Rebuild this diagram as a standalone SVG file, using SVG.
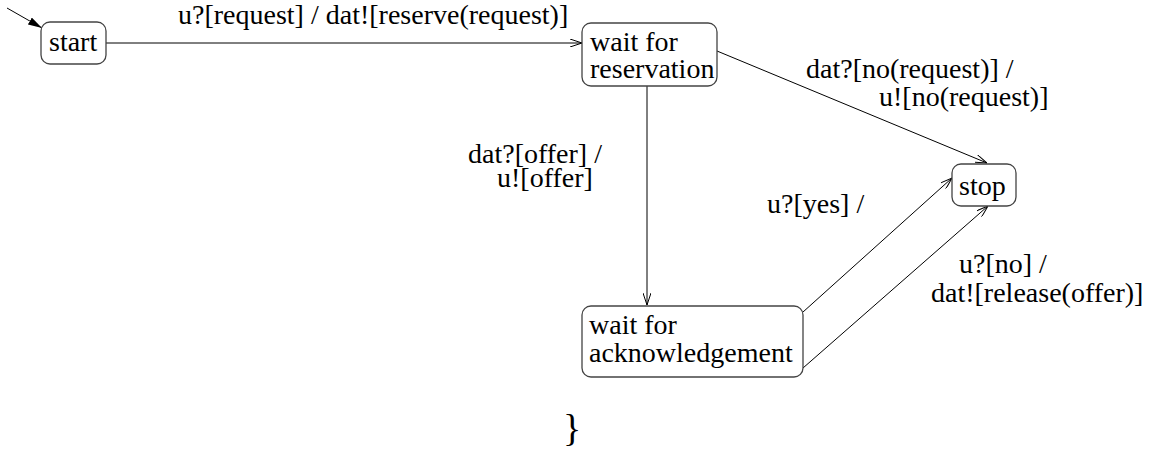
<svg xmlns="http://www.w3.org/2000/svg" width="1152" height="452" viewBox="0 0 1152 452">
<style>
.node rect{fill:#fff;stroke:#444;stroke-width:1.3}
.edge{fill:none;stroke:#000;stroke-width:1}
</style>
<defs>
<marker id="open" viewBox="0 0 12 8" refX="12" refY="4" markerWidth="12" markerHeight="8" markerUnits="userSpaceOnUse" orient="auto">
<path d="M0,0 L12,4 L0,8" fill="none" stroke="#000" stroke-width="1"/>
</marker>
<marker id="filled" viewBox="0 0 14 8" refX="14" refY="4" markerWidth="14" markerHeight="8" markerUnits="userSpaceOnUse" orient="auto">
<path d="M0,0 L14,4 L0,8 Z" fill="#000"/>
</marker>
</defs>
<g id="connectors">
<line class="edge" x1="7" y1="8" x2="42" y2="28" marker-end="url(#filled)"/>
<line class="edge" x1="106" y1="43" x2="582" y2="43" marker-end="url(#open)"/>
<line class="edge" x1="717" y1="51" x2="987" y2="163" marker-end="url(#open)"/>
<line class="edge" x1="647" y1="86" x2="647" y2="305" marker-end="url(#open)"/>
<line class="edge" x1="803" y1="312" x2="952" y2="178" marker-end="url(#open)"/>
<line class="edge" x1="803" y1="368" x2="988" y2="206" marker-end="url(#open)"/>
<text x="178" y="24" font-size="28" font-family="Times New Roman">u?[request] / dat![reserve(request)]</text>
<text x="806" y="78" font-size="28" font-family="Times New Roman">dat?[no(request)] /</text>
<text x="879" y="106" font-size="28" font-family="Times New Roman">u![no(request)]</text>
<text x="468" y="163" font-size="28" font-family="Times New Roman">dat?[offer] /</text>
<text x="497" y="187" font-size="28" font-family="Times New Roman">u![offer]</text>
<text x="767" y="213" font-size="28" font-family="Times New Roman">u?[yes] /</text>
<text x="959" y="273" font-size="28" font-family="Times New Roman">u?[no] /</text>
<text x="931" y="302" font-size="28" font-family="Times New Roman">dat![release(offer)]</text>
</g>
<g id="start" class="node">
<rect x="41" y="22" width="65" height="42" rx="9"/>
<text x="49" y="51" font-size="28" font-family="Times New Roman">start</text>
</g>
<g id="waitReservation" class="node">
<rect x="582" y="23" width="135" height="63" rx="9"/>
<text x="590" y="51" font-size="28" font-family="Times New Roman">wait for</text>
<text x="590" y="78" font-size="28" font-family="Times New Roman">reservation</text>
</g>
<g id="waitAck" class="node">
<rect x="582" y="306" width="221" height="71" rx="9"/>
<text x="589" y="334" font-size="28" font-family="Times New Roman">wait for</text>
<text x="589" y="362" font-size="28" font-family="Times New Roman">acknowledgement</text>
</g>
<g id="stop" class="node">
<rect x="952" y="164" width="64" height="42" rx="9"/>
<text x="959" y="195" font-size="28" font-family="Times New Roman">stop</text>
</g>
<text x="563" y="441" font-size="38" font-family="Times New Roman">}</text>
</svg>
